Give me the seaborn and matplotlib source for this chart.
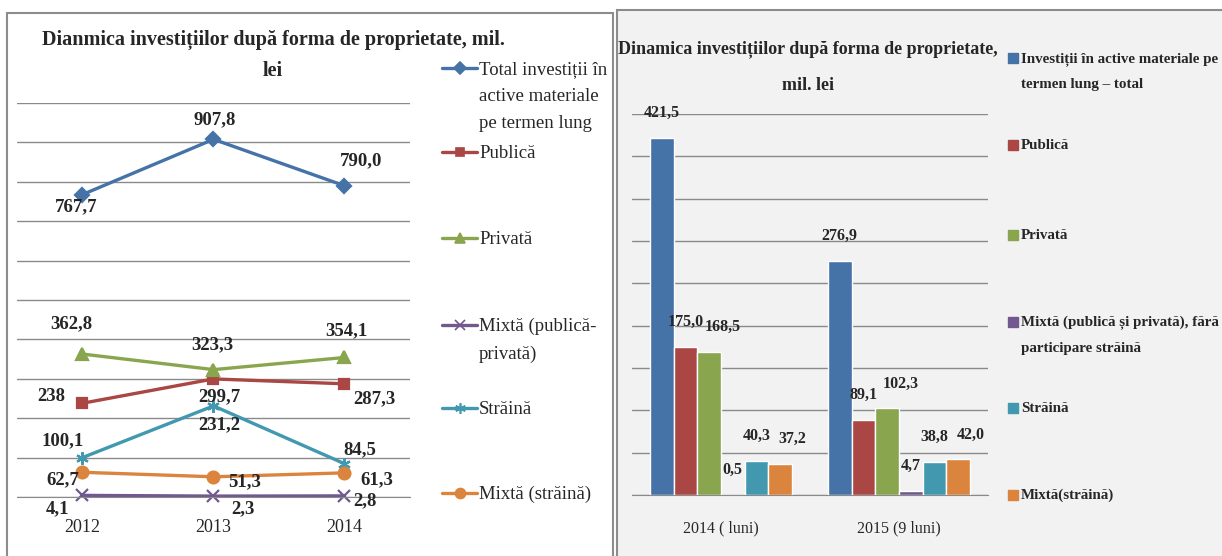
import matplotlib
matplotlib.use('Agg')
import matplotlib.pyplot as plt
import seaborn as sns
import pandas as pd
from matplotlib.lines import Line2D
from matplotlib.patches import Rectangle

# --- left chart data (line) ---
years = ['2012', '2013', '2014']
total = [767.7, 907.8, 790.0]
publica = [238.0, 299.7, 287.3]
privata = [362.8, 323.3, 354.1]
mixta_pp = [4.1, 2.3, 2.8]
straina = [100.1, 231.2, 84.5]
mixta_str = [62.7, 51.3, 61.3]
line_labels = ['Total investiții în\nactive materiale\npe termen lung', 'Publică', 'Privată',
               'Mixtă (publică-\nprivată)', 'Străină', 'Mixtă (străină)']

# --- right chart data (bars) ---
periods = ['2014 ( luni)', '2015 (9 luni)']
bar_series = ['Investiții în active materiale pe\ntermen lung – total', 'Publică', 'Privată',
              'Mixtă (publică și privată), fără\nparticipare străină', 'Străină', 'Mixtă(străină)']
bar_2014 = [421.5, 175.0, 168.5, 0.5, 40.3, 37.2]
bar_2015 = [276.9, 89.1, 102.3, 4.7, 38.8, 42.0]

sns.set_style('white')
plt.rcParams['font.family'] = ['Liberation Serif', 'DejaVu Serif']

W, H = 1222, 556
fig = plt.figure(figsize=(W / 100, H / 100), dpi=100)
fx = lambda px: px / W
fy = lambda py: 1 - py / H

def fmt(v):
    s = f'{v:.1f}'.replace('.', ',')
    return s[:-2] if s.endswith(',0') and v == 238 else s

# panel backgrounds
fig.add_artist(Rectangle((fx(7), -0.05), fx(613) - fx(7), fy(13) + 0.05, facecolor='white',
                         edgecolor='#8c8c8c', lw=1.5, zorder=-5))
fig.add_artist(Rectangle((fx(617), -0.05), 1.0, fy(10) + 0.05, facecolor='#f2f2f2',
                         edgecolor='#8c8c8c', lw=1.5, zorder=-5))

grid_c = '#8a8a8a'

# ---------------- left: lines ----------------
axl = fig.add_axes([fx(17), fy(497), fx(410) - fx(17), fy(103) - fy(497)])
axl.patch.set_alpha(0)
line_cols = ['#4573a7', '#aa4643', '#89a54e', '#71588f', '#4198af', '#db843d']
markers = ['D', 's', '^', 'x', (6, 2, 0), 'o']
msizes = [7.5, 7, 8.5, 8.5, 9, 8.5]
series = [total, publica, privata, mixta_pp, straina, mixta_str]
xs = list(range(len(years)))
for vals, c, m, ms in zip(series, line_cols, markers, msizes):
    sns.lineplot(x=xs, y=vals, ax=axl, color=c, lw=2.4, marker=m, markersize=ms,
                 markeredgecolor=c, markeredgewidth=1.6, clip_on=False)

# label offsets in pixels (dx, dy) per series/point
lbl_off = [[(-6, -12), (1, 20), (17, 25)],
           [(-31, 7), (6, -18), (30, -15)],
           [(-11, 30), (-1, 25), (2, 27)],
           [(-25, -13), (29, -13), (20, -5)],
           [(-20, 17), (6, -19), (15, 14)],
           [(-20, -7), (31, -5), (32, -7)]]
for si, vals in enumerate(series):
    for xi, v in enumerate(vals):
        axl.annotate(fmt(v), (xi, v), xytext=lbl_off[si][xi], textcoords='offset pixels',
                     ha='center', va='center', fontsize=13.5, fontweight='bold')

axl.set_xlim(-0.5, 2.5)
axl.set_ylim(0, 1000)
axl.set_yticks(range(0, 1001, 100))
axl.yaxis.grid(True, color=grid_c, lw=1)
axl.tick_params(axis='y', length=0, labelleft=False)
axl.set_xticks(xs)
axl.set_xticklabels(years, fontsize=13)
axl.set_xticks([-0.5, 0.5, 1.5, 2.5], minor=True)
axl.tick_params(axis='x', which='major', length=0, pad=16)
axl.tick_params(axis='x', which='minor', length=6, color=grid_c, direction='out')
for s in ['left', 'top', 'right']:
    axl.spines[s].set_visible(False)
axl.spines['bottom'].set_color(grid_c)
axl.set_xlabel('')
axl.set_ylabel('')

fig.text(fx(273), fy(30), 'Dianmica investițiilor după forma de proprietate, mil.\nlei',
         ha='center', va='top', fontsize=14.5, fontweight='bold', linespacing=1.75)

leg_y = [68, 152, 238, 325, 408, 493]
for lab, c, m, ms, yc in zip(line_labels, line_cols, markers, msizes, leg_y):
    fig.add_artist(Line2D([fx(442), fx(477)], [fy(yc), fy(yc)], color=c, lw=2.4))
    fig.add_artist(Line2D([fx(459.5)], [fy(yc)], color=c, marker=m, markersize=ms * 0.85,
                          markeredgecolor=c, markeredgewidth=1.2))
    fig.text(fx(479), fy(yc - 7), lab, ha='left', va='top', fontsize=13.5, linespacing=1.75)

# ---------------- right: bars ----------------
axr = fig.add_axes([fx(632), fy(495), fx(988) - fx(632), fy(114) - fy(495)])
axr.patch.set_alpha(0)
bar_cols = ['#4572a7', '#aa4643', '#89a54e', '#71588f', '#4198af', '#db843d']
rows = []
for i, s in enumerate(bar_series):
    rows.append((periods[0], s, bar_2014[i]))
    rows.append((periods[1], s, bar_2015[i]))
df = pd.DataFrame(rows, columns=['period', 'series', 'value'])
sns.barplot(data=df, x='period', y='value', hue='series', hue_order=bar_series, order=periods,
            palette=bar_cols, saturation=1, width=0.8, legend=False, ax=axr, zorder=3)

bar_dx = [0, 0, 14, 0, 0, 12]
for i, cont in enumerate(axr.containers):
    for bar in cont:
        x = bar.get_x() + bar.get_width() / 2
        h = bar.get_height()
        axr.annotate(fmt(h), (x, h), xytext=(bar_dx[i], 25), textcoords='offset pixels',
                     ha='center', va='center', fontsize=11.5, fontweight='bold')

axr.set_xlim(-0.5, 1.5)
axr.set_ylim(0, 450)
axr.set_yticks(range(0, 451, 50))
axr.yaxis.grid(True, color=grid_c, lw=1, zorder=0)
axr.set_axisbelow(True)
axr.tick_params(axis='y', length=0, labelleft=False)
axr.set_xticks([0, 1])
axr.set_xticklabels(periods, fontsize=11.5)
axr.set_xticks([-0.5, 0.5, 1.5], minor=True)
axr.tick_params(axis='x', which='major', length=0, pad=18)
axr.tick_params(axis='x', which='minor', length=6, color=grid_c, direction='out')
for s in ['left', 'top', 'right']:
    axr.spines[s].set_visible(False)
axr.spines['bottom'].set_color(grid_c)
axr.set_xlabel('')
axr.set_ylabel('')

fig.text(fx(808), fy(40), 'Dinamica investițiilor după forma de proprietate,\nmil. lei',
         ha='center', va='top', fontsize=13, fontweight='bold', linespacing=2.45)

rleg_y = [58, 145, 235, 322, 408, 495]
for lab, c, yc in zip(bar_series, bar_cols, rleg_y):
    fig.add_artist(Line2D([fx(1013)], [fy(yc)], marker='s', markersize=6.5, color=c, lw=0))
    fig.text(fx(1021), fy(yc - 6), lab, ha='left', va='top', fontsize=10.8,
             fontweight='bold', linespacing=2.2)

fig.savefig('out.png', dpi=100)
